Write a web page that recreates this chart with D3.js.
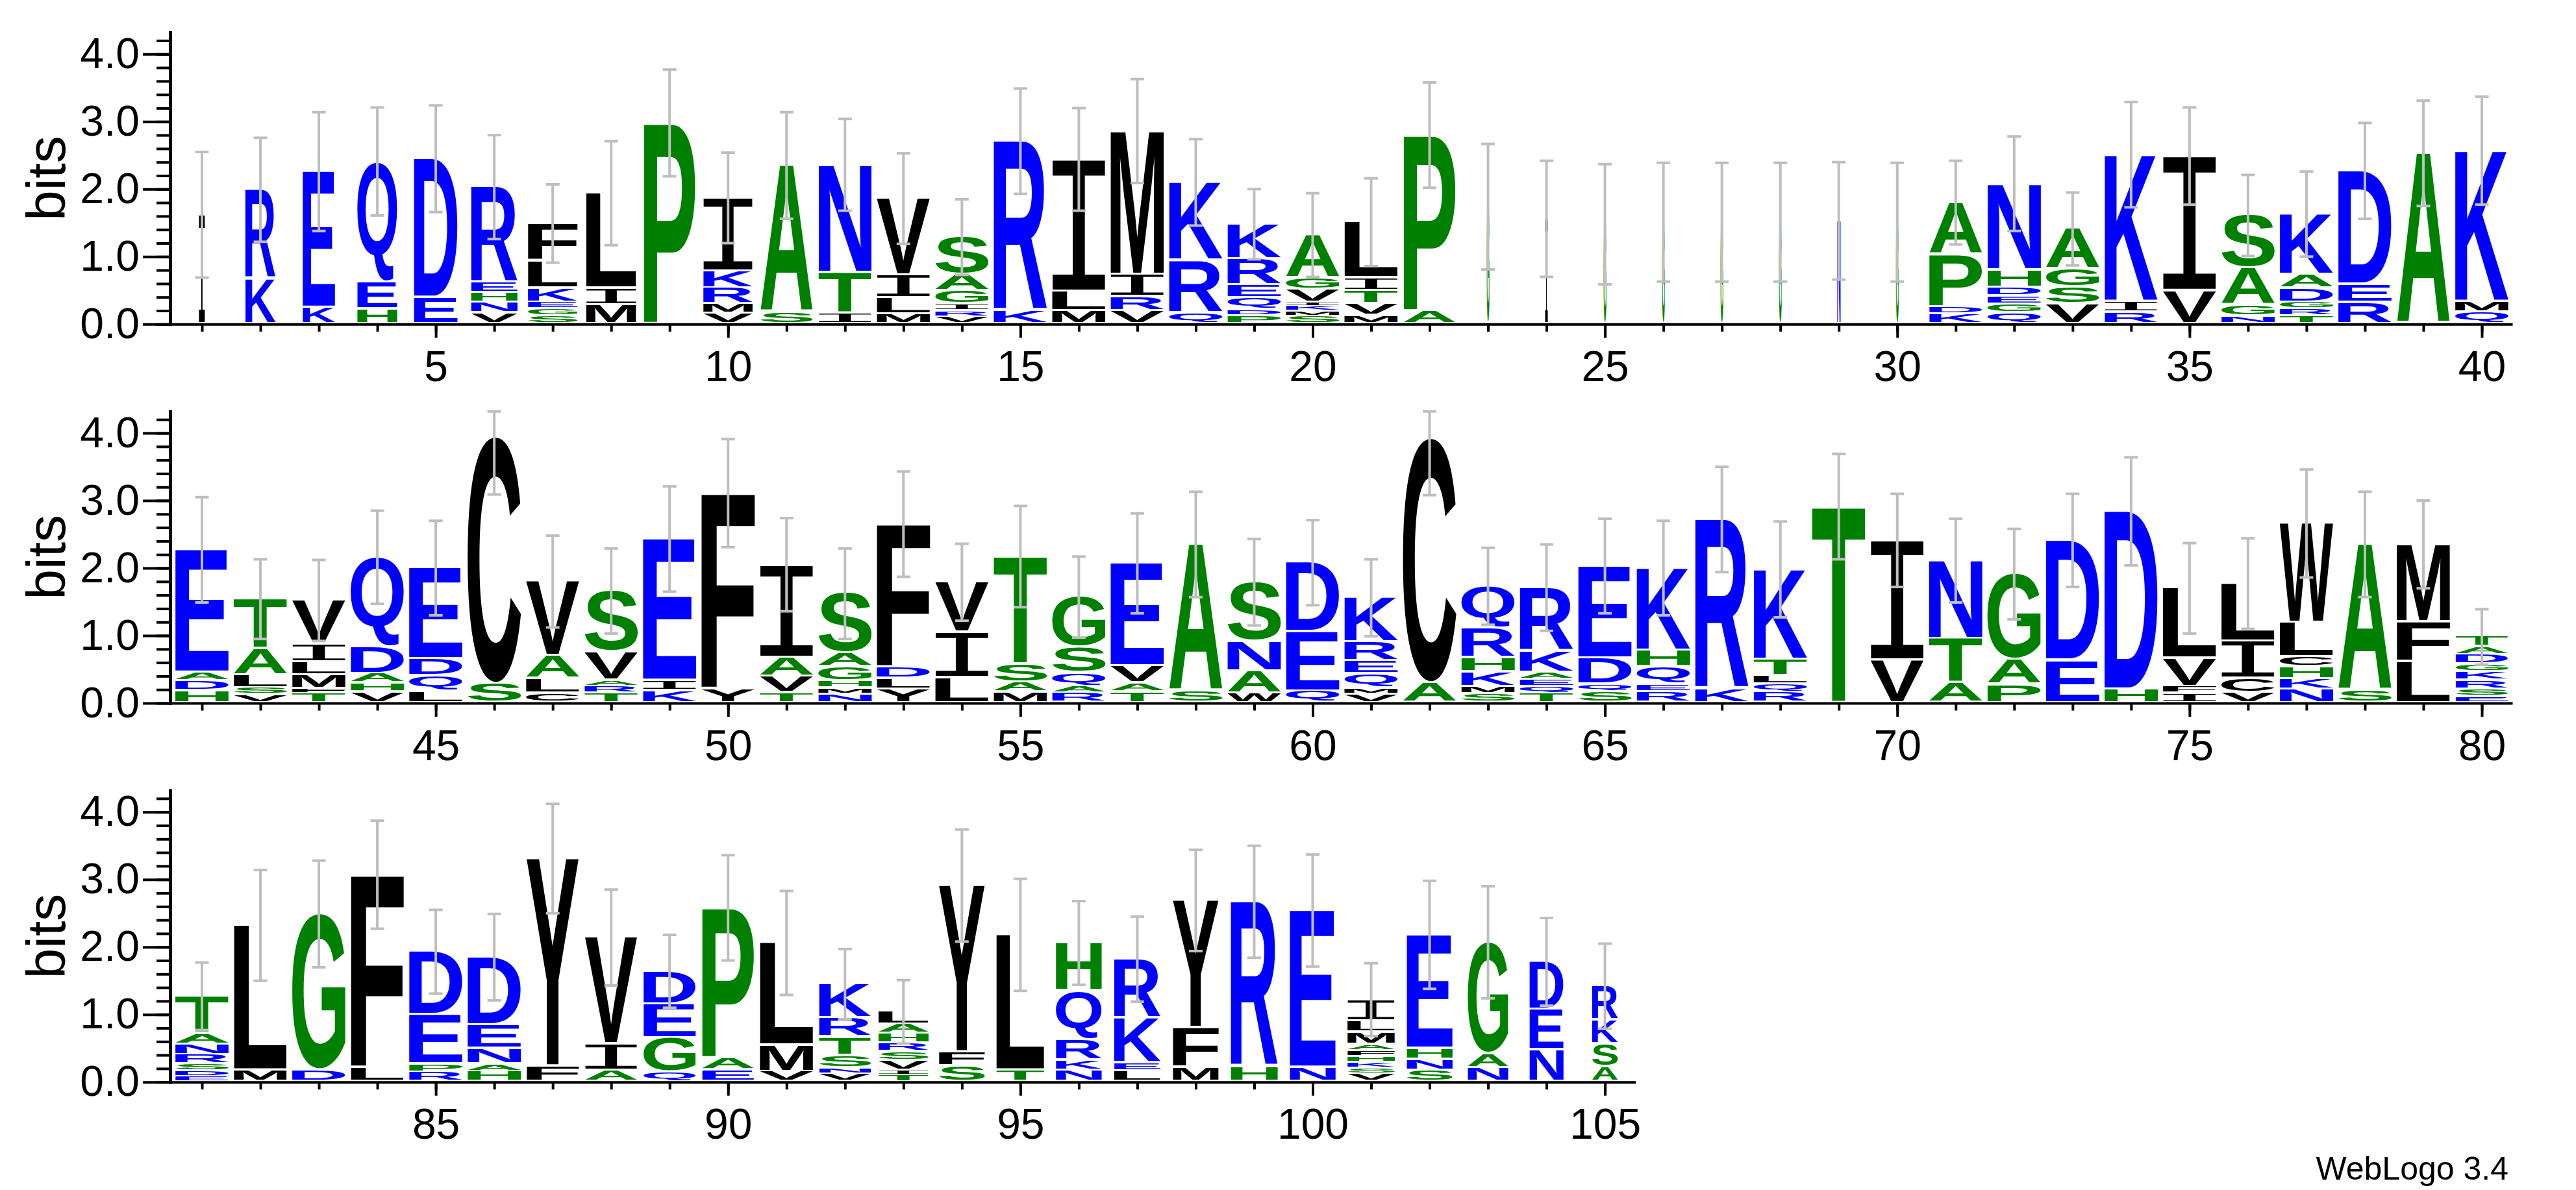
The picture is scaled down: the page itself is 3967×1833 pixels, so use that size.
<!DOCTYPE html>
<html><head><meta charset="utf-8">
<script src="https://cdn.jsdelivr.net/npm/d3@7"></script>
<style>body{margin:0;background:#fff}</style>
</head><body>
<script>
// ---------------- DATA ----------------
const rowStarts = [1, 41, 81];
const rowCounts = [40, 40, 25];
const maxBits = 4.32;
const yMajorTicks = [0, 1, 2, 3, 4];
const yTickLabels = ["0.0", "1.0", "2.0", "3.0", "4.0"];
const xLabelEvery = 5;

// letters of each stack, bottom -> top
const stackLetters = ["I","KR","KE","HEQ","ED","VNHER","SGEKLF","MIL","P","VMRKI",
 "SA","ITN","MLIV","VRIGAS","KR","MLI","VRIM","QRK","PDQERK","SMKIVGA",
 "MVTIL","AP","G","I","G","G","G","G","N","G",
 "KDPA","QGEDHN","VSGA","RIK","VI","NGAS","TRGDAK","RED","A","QMK",
 "HDAE","VSLAT","TFMLIV","VHADQ","LQDE","SC","CLAV","TRAVS","KIE","YF",
 "TVAI","NMHGAS","YLDF","LIV","MAST","RAQSG","TAVE","SA","WANS","QED",
 "VMQERK","AC","SMKHRQ","TQEAKR","SQDE","REQHK","KR","RQLTK","T","VI",
 "ATN","PAG","ED","HD","IFVL","VCIL","NKHCLW","SA","LFM","ESRKGDAT",
 "EDSRNAT","ML","DG","LF","RPED","HANED","FY","AIV","QGED","EAP",
 "VML","VNSTRK","TIVSRHAL","SFY","TL","NKRQH","LEKR","MFY","HR","NE",
 "VSKHFAMLI","SNHE","NAG","NED","ASKR"];

// letter heights in bits, bottom -> top
const stackHeights = [
 [1.62],[.67,1.32],[.24,2.02],[.22,.40,1.79],[.39,2.06],[.16,.16,.14,.15,1.42],[.12,.10,.10,.21,.40,.56],[.28,.25,1.41],[2.98],[.15,.14,.24,.25,1.09],
 [.17,2.18],[.16,.60,1.60],[.14,.24,.34,1.14],[.10,.09,.10,.20,.24,.56],[.19,2.52],[.19,.29,1.96],[.19,.21,.33,2.13],[.16,.78,1.16],[.12,.09,.17,.19,.39,.52],[.12,.07,.08,.05,.19,.17,.64],
 [.12,.18,.19,.19,.83],[.19,2.61],[1.74],[1.56],[1.48],[1.51],[1.51],[1.51],[1.53],[1.51],
 [.14,.11,.78,.77],[.16,.13,.12,.13,.26,1.28],[.29,.25,.27,.60],[.17,.16,2.18],[.49,2.00],[.11,.16,.55,.79],[.12,.10,.10,.21,.20,.90],[.32,.26,1.69],[2.53],[.17,.16,2.24],
 [.18,.14,.13,1.82],[.12,.10,.19,.39,.74],[.14,.07,.20,.19,.27,.65],[.16,.13,.14,.40,1.33],[.17,.23,.25,1.35],[.28,3.66],[.14,.22,.34,1.10],[.14,.10,.09,.42,.91],[.18,.15,2.10],[.21,2.90],
 [.15,.24,.28,1.38],[.13,.09,.10,.21,.20,.89],[.20,.16,.17,2.12],[.37,.67,.75],[.16,.14,.27,1.60],[.14,.10,.20,.38,.75],[.16,.13,.25,1.53],[.17,2.18],[.14,.33,.44,.88],[.17,.88,1.03],
 [.13,.09,.21,.19,.28,.66],[.29,3.63],[.13,.11,.22,.21,.44,.62],[.14,.10,.10,.11,.32,.94],[.16,.11,.39,1.37],[.16,.11,.26,.24,1.23],[.20,2.52],[.15,.12,.13,.24,1.34],[2.91],[.63,1.78],
 [.29,.66,1.16],[.27,.37,1.27],[.63,1.78],[.20,2.64],[.14,.10,.42,1.04],[.15,.21,.55,.86],[.20,.15,.18,.15,.51,1.47],[.18,2.17],[.61,.59,1.15],[.09,.11,.13,.13,.11,.14,.12,.15],
 [.08,.08,.10,.14,.15,.16,.56],[.17,2.15],[.17,2.32],[.21,2.86],[.14,.12,.73,.94],[.15,.11,.23,.35,1.01],[.23,3.08],[.17,.39,1.58],[.14,.51,.50,.49],[.17,.18,2.23],
 [.15,.39,1.52],[.12,.08,.19,.27,.28,.51],[.10,.07,.14,.13,.13,.14,.14,.19],[.23,.21,2.47],[.17,2.01],[.17,.15,.30,.73,.71],[.16,.12,.66,.88],[.21,.59,1.89],[.22,2.45],[.21,2.33],
 [.12,.08,.09,.09,.08,.09,.18,.17,.32],[.17,.16,.16,1.69],[.20,.21,1.66],[.47,.60,.71],[.22,.34,.35,.51]
];

// relative stack widths (fraction of non-gap symbols)
const stackWidths = [
 .11,.56,.60,.74,.81,.86,.92,.93,.95,.92,
 .97,.98,.99,.99,.99,.99,.99,.99,.99,.99,
 .99,.96,.05,.05,.05,.05,.05,.05,.06,.05,
 .98,.99,.99,.98,.99,.99,.99,.99,.98,.99,
 .99,.99,.99,.99,.99,.99,.99,.99,.99,.99,
 .99,.99,.99,.99,.99,.99,.99,.99,.99,.99,
 .99,.99,.99,.99,.99,.99,.99,.99,.99,.99,
 .99,.99,.99,.99,.99,.99,.99,.99,.99,.97,
 .99,.98,.99,.98,.99,.99,.97,.97,.97,.96,
 .99,.96,.93,.85,.89,.85,.86,.85,.87,.85,
 .88,.85,.75,.63,.48];

// error bar half-lengths in bits
const errorBars = [
 .93,.77,.88,.80,.79,.77,.58,.77,.79,.67,
 .79,.68,.67,.56,.78,.76,.77,.64,.52,.62,
 .65,.78,.93,.86,.89,.88,.88,.88,.87,.88,
 .62,.70,.54,.78,.72,.60,.63,.71,.78,.80,
 .78,.59,.60,.69,.70,.85,.68,.63,.78,.80,
 .69,.67,.78,.57,.75,.60,.74,.78,.64,.63,
 .57,.84,.57,.64,.70,.70,.78,.71,.78,.69,
 .62,.67,.69,.80,.67,.67,.80,.78,.65,.41,
 .50,.82,.79,.80,.62,.64,.81,.71,.54,.78,
 .77,.52,.47,.83,.83,.62,.63,.75,.83,.83,
 .54,.80,.83,.65,.63];

const hydrophilic = "RKDENQ", neutral = "SGHTAP";
const colorOf = c => hydrophilic.includes(c) ? "#0000ff" : neutral.includes(c) ? "#008000" : "#000000";

// ---------------- LAYOUT / STYLE ----------------
const W = 3967, H = 1833;
const L = {axisX: 262, plotLeft: 266, step: 90.025, baseline0: 499.3, rowGap: 583.7,
  pxPerBit: 104, fullStackW: 83, fontTick: 66, fontBits: 84};
const letterFont = ch => ch === "I" ? "Liberation Mono" : "Liberation Sans";
const letterWeight = ch => ch === "I" ? "normal" : "bold";

const svg = d3.select("body").append("svg").attr("width", W).attr("height", H)
  .style("display", "block");
svg.append("rect").attr("width", W).attr("height", H).attr("fill", "#fff");

// glyph ink metrics
const ctx = document.createElement("canvas").getContext("2d");
const metricCache = {};
function metrics(ch) {
  if (metricCache[ch]) return metricCache[ch];
  ctx.font = `${letterWeight(ch)} 200px "${letterFont(ch)}"`;
  const m = ctx.measureText(ch);
  return metricCache[ch] = {l: m.actualBoundingBoxLeft, r: m.actualBoundingBoxRight,
    a: m.actualBoundingBoxAscent, d: m.actualBoundingBoxDescent};
}

rowStarts.forEach((start, r) => {
  const count = rowCounts[r];
  const yb = L.baseline0 + r * L.rowGap;
  const x = d3.scaleLinear().domain([start - 0.5, start - 0.5 + count])
    .range([L.plotLeft, L.plotLeft + count * L.step]);
  const y = d3.scaleLinear().domain([0, maxBits]).range([yb, yb - maxBits * L.pxPerBit]);
  const positions = d3.range(start, start + count);

  // stacks
  const gStacks = svg.append("g");
  positions.forEach(p => {
    const i = p - 1;
    const letters = stackLetters[i], hs = stackHeights[i];
    const w = stackWidths[i] * L.fullStackW;
    const x0 = x(p) - w / 2;
    let cum = 0;
    letters.split("").forEach((ch, j) => {
      const top = y(cum + hs[j]);
      const bottomBox = y(cum);
      const inset = Math.min(3.5, (bottomBox - top) * 0.3);
      const h = bottomBox - inset - top;
      cum += hs[j];
      if (h <= 0) return;
      const m = metrics(ch);
      const sx = w / (m.l + m.r), sy = h / (m.a + m.d);
      gStacks.append("text")
        .attr("font-family", letterFont(ch)).attr("font-weight", letterWeight(ch))
        .attr("font-size", 200).attr("fill", colorOf(ch))
        .attr("transform", `translate(${x0 + m.l * sx},${top + m.a * sy}) scale(${sx},${sy})`)
        .text(ch);
    });
  });

  // error bars
  const gErr = svg.append("g").attr("stroke", "#bebebe").attr("stroke-width", 4);
  positions.forEach(p => {
    const i = p - 1;
    const total = d3.sum(stackHeights[i]);
    const lo = Math.max(0, total - errorBars[i]), hi = Math.min(maxBits, total + errorBars[i]);
    const cx = x(p);
    gErr.append("line").attr("x1", cx).attr("x2", cx).attr("y1", y(lo)).attr("y2", y(hi));
    [lo, hi].forEach(v => gErr.append("line").attr("x1", cx - 10.5).attr("x2", cx + 10.5)
      .attr("y1", y(v)).attr("y2", y(v)));
  });

  // y axis
  const gyMinor = svg.append("g").attr("transform", `translate(${L.axisX},0)`)
    .call(d3.axisLeft(y).tickValues(d3.range(0, 4.21, 0.2)).tickSize(21).tickSizeOuter(0).tickFormat(""));
  gyMinor.select(".domain").remove();
  gyMinor.selectAll(".tick line").attr("stroke-width", 4);
  const gy = svg.append("g").attr("transform", `translate(${L.axisX},0)`)
    .call(d3.axisLeft(y).tickValues(yMajorTicks).tickSize(42).tickSizeOuter(0).tickPadding(5)
      .tickFormat((d, k) => yTickLabels[k]));
  gy.select(".domain").attr("stroke-width", 5).attr("stroke-linecap", "square");
  gy.selectAll(".tick line").attr("stroke-width", 4);
  gy.selectAll(".tick text").attr("font-family", "Liberation Sans").attr("font-size", L.fontTick).attr("fill", "#000");

  // x axis
  const gxMinor = svg.append("g").attr("transform", `translate(0,${yb})`)
    .call(d3.axisBottom(x).tickValues(positions).tickSize(11.5).tickSizeOuter(0).tickFormat(""));
  gxMinor.select(".domain").attr("stroke-width", 4).attr("stroke-linecap", "square");
  gxMinor.selectAll(".tick line").attr("stroke-width", 4);
  const gx = svg.append("g").attr("transform", `translate(0,${yb})`)
    .call(d3.axisBottom(x).tickValues(positions.filter(p => p % xLabelEvery === 0))
      .tickSize(21).tickSizeOuter(0).tickPadding(19.7).tickFormat(d => String(d)));
  gx.select(".domain").remove();
  gx.selectAll(".tick line").attr("stroke-width", 4);
  gx.selectAll(".tick text").attr("font-family", "Liberation Sans").attr("font-size", L.fontTick).attr("fill", "#000");

  // "bits" label
  svg.append("text")
    .attr("transform", `translate(100,${(y(maxBits) + yb) / 2}) rotate(-90)`)
    .attr("text-anchor", "middle").attr("font-family", "Liberation Sans")
    .attr("font-size", L.fontBits).attr("fill", "#000").text("bits");
});

svg.append("text").attr("x", 3863).attr("y", 1817).attr("text-anchor", "end")
  .attr("font-family", "Liberation Sans").attr("font-size", 50).attr("fill", "#000")
  .text("WebLogo 3.4");
</script>
</body></html>
